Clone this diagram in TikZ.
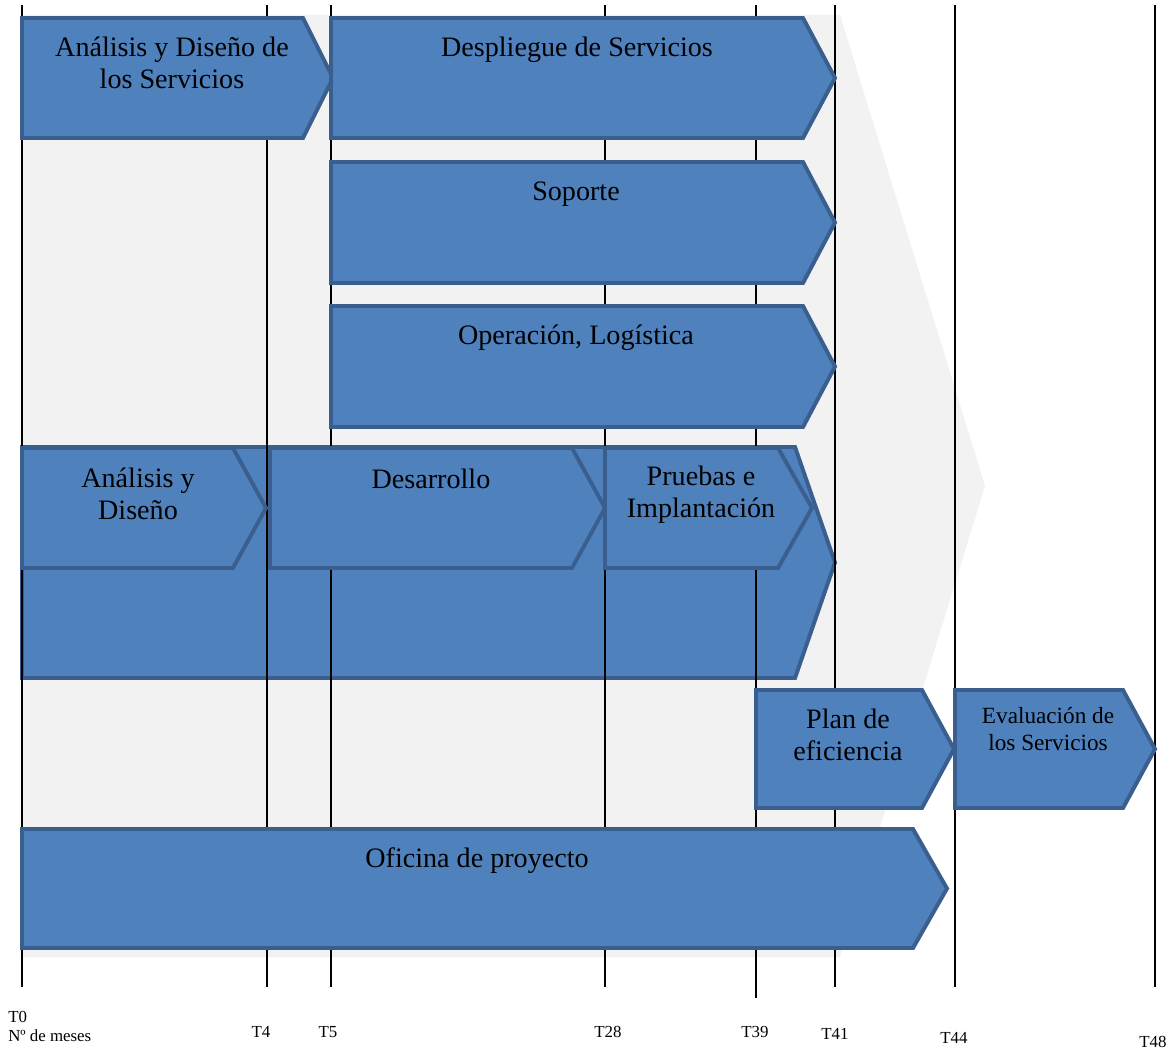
\documentclass[tikz,border=0pt]{standalone}
\usepackage{fontspec}
\setmainfont{Liberation Serif}

\definecolor{barfill}{HTML}{4F81BD}
\definecolor{baredge}{HTML}{3A5F8F}
\definecolor{backgrey}{HTML}{F2F2F2}

% chevron: left, top, body right, bottom, tip
\newcommand{\phasebar}[5]{%
  \filldraw[phase] (#1,#2) -- (#3,#2) -- (#5,{(#2+#4)/2}) -- (#3,#4) -- (#1,#4) -- cycle;}

\begin{document}
\begin{tikzpicture}[x=0.025cm,y=-0.025cm,
    phase/.style={fill=barfill,draw=baredge,line width=2.8pt,line join=miter},
    timeline/.style={draw=black,line width=1pt},
    phasetext/.style={font=\fontsize{20}{22.8}\selectfont,align=center,inner sep=0pt},
    smalltext/.style={font=\fontsize{16.5}{19.2}\selectfont,align=center,inner sep=0pt},
    ticktext/.style={font=\fontsize{12}{14}\selectfont,inner sep=0pt}]
  \useasboundingbox (0,0) rectangle (1168,1050);

  % background chevron
  \fill[backgrey] (22,15) -- (840,15) -- (985,486) -- (840,957) -- (22,957) -- cycle;

  % development block
  \phasebar{22}{447}{795}{678}{835}

  % time marks
  \foreach \x/\b in {22/987,267/987,331/987,605/987,756/998,835/987,955/987,1155/987}
    \draw[timeline] (\x,5) -- (\x,\b);

  % phases
  \phasebar{22}{18}{303}{138}{333}
  \phasebar{331}{18}{803}{138}{835}
  \phasebar{331}{162}{803}{283}{835}
  \phasebar{331}{306}{803}{427}{835}
  \phasebar{22}{448}{233}{568}{266}
  \phasebar{270}{448}{572}{568}{605}
  \phasebar{605}{448}{778}{568}{812}
  \phasebar{756}{690}{922}{808}{954}
  \phasebar{955}{690}{1123}{808}{1155}
  \phasebar{22}{829}{913}{948}{947}

  \draw
  (172,63) node[phasetext] (ads){Análisis y Diseño de\\los Servicios}
  (577,50) node[phasetext] (desp){Despliegue de Servicios}
  (576,194) node[phasetext] (sop){Soporte}
  (576,338) node[phasetext] (oper){Operación, Logística}
  (138,494) node[phasetext] (ad){Análisis y\\Diseño}
  (431,479) node[phasetext] (des){Desarrollo}
  (701,495) node[phasetext] (prue){Pruebas e\\Implantación}
  (848,735) node[phasetext] (plan){Plan de\\eficiencia}
  (1048,729) node[smalltext] (eval){Evaluación de\\los Servicios}
  (477,861) node[phasetext] (ofi){Oficina de proyecto};

  \draw
  (8,1017) node[ticktext,anchor=west] (t0){T0}
  (8,1036) node[ticktext,anchor=west] (meses){Nº de meses}
  (261,1032) node[ticktext] (t4){T4}
  (328,1032) node[ticktext] (t5){T5}
  (608,1032) node[ticktext] (t28){T28}
  (755,1032) node[ticktext] (t39){T39}
  (835,1034) node[ticktext] (t41){T41}
  (954,1038) node[ticktext] (t44){T44}
  (1153,1042) node[ticktext] (t48){T48};

\end{tikzpicture}
\end{document}
